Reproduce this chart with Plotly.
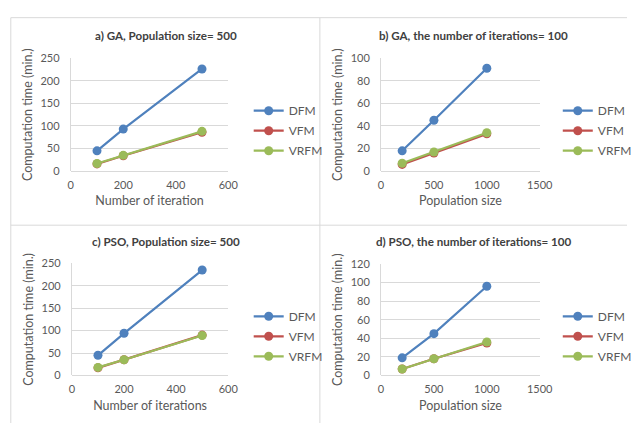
import plotly.graph_objects as go

W, H = 640, 429

series_names = ["DFM", "VFM", "VRFM"]
series_colors = ["#4F81BD", "#C0504D", "#9BBB59"]

# a) GA, Population size = 500
a_x = [100, 200, 500]
a_dfm = [45, 93, 226]
a_vfm = [16, 34, 86]
a_vrfm = [17, 35, 88]

# b) GA, number of iterations = 100
b_x = [200, 500, 1000]
b_dfm = [18, 45, 91]
b_vfm = [6, 16, 33]
b_vrfm = [7, 17, 34]

# c) PSO, Population size = 500
c_x = [100, 200, 500]
c_dfm = [45, 94, 235]
c_vfm = [17, 35, 90]
c_vrfm = [18, 35, 89]

# d) PSO, number of iterations = 100
d_x = [200, 500, 1000]
d_dfm = [19, 45, 96]
d_vfm = [7, 18, 35]
d_vrfm = [7, 18, 36]

titles = ["a) GA, Population size= 500", "b) GA, the number of iterations= 100",
          "c) PSO, Population size= 500", "d) PSO, the number of iterations= 100"]
xtitles = ["Number of iteration", "Population size", "Number of iterations", "Population size"]
ytitle = "Computation time (min.)"
xranges = [[0, 600], [0, 1500], [0, 600], [0, 1500]]
xdticks = [200, 500, 200, 500]
yranges = [[0, 250], [0, 100], [0, 250], [0, 120]]
ydticks = [50, 20, 50, 20]

panels = [
    (a_x, [a_dfm, a_vfm, a_vrfm]),
    (b_x, [b_dfm, b_vfm, b_vrfm]),
    (c_x, [c_dfm, c_vfm, c_vrfm]),
    (d_x, [d_dfm, d_vfm, d_vrfm]),
]

FONT = "Lato"
GRID = "#D9D9D9"
TXT = "#595959"

def px(x):
    return x / W

def py(y):
    return 1 - y / H

# plot-area pixel boxes (left, right, top, bottom)
boxes = [
    (69.5, 231, 52.7, 169.3),
    (387.7, 550.5, 52.7, 169.3),
    (70.7, 231, 264.3, 380),
    (387.7, 550.5, 265, 380),
]
title_pos = [(166.7, 29.3), (483, 29.3), (166.7, 241.7), (483, 241.7)]
legend_pos = [(252, 92), (569, 92), (252, 304), (569, 304)]

fig = go.Figure()
layout = {}
for i, (xs, ys_list) in enumerate(panels):
    k = "" if i == 0 else str(i + 1)
    lg = "legend" if i == 0 else f"legend{i + 1}"
    for name, col, ys in zip(series_names, series_colors, ys_list):
        fig.add_trace(go.Scatter(
            x=xs, y=ys, name=name, mode="lines+markers",
            line=dict(color=col, width=2.2),
            marker=dict(color=col, size=9),
            xaxis="x" + k, yaxis="y" + k, legend=lg,
            legendgroup=f"{name}{i}",
        ))
    l, r, t, b = boxes[i]
    layout["xaxis" + k] = dict(
        domain=[px(l), px(r)], range=xranges[i], dtick=xdticks[i], tick0=0,
        anchor="y" + k, showgrid=False, zeroline=False, showline=False,
        tickfont=dict(family=FONT, size=11, color=TXT), ticklabelstandoff=6,
        title=dict(text=xtitles[i], font=dict(family=FONT, size=12.5, color=TXT), standoff=6),
        fixedrange=True,
    )
    layout["yaxis" + k] = dict(
        domain=[py(b), py(t)], range=yranges[i], dtick=ydticks[i], tick0=0,
        anchor="x" + k, showgrid=True, gridcolor=GRID, gridwidth=1,
        zeroline=True, zerolinecolor=GRID, zerolinewidth=1,
        showline=True, linecolor=GRID, linewidth=1,
        tickfont=dict(family=FONT, size=11, color=TXT), ticklabelstandoff=8,
        title=dict(text=ytitle, font=dict(family=FONT, size=12.5, color=TXT), standoff=5),
        fixedrange=True,
    )
    lx, ly = legend_pos[i]
    layout[lg] = dict(
        x=px(lx), y=py(ly), xanchor="left", yanchor="top",
        font=dict(family=FONT, size=12, color=TXT), bgcolor="rgba(0,0,0,0)",
        tracegroupgap=1, itemwidth=30,
    )
    tx, ty = title_pos[i]
    fig.add_annotation(
        x=px(tx), y=py(ty), xref="paper", yref="paper", showarrow=False,
        text=f"<b>{titles[i]}</b>", xanchor="center", yanchor="middle",
        font=dict(family=FONT, size=11.6, color="#404040"),
    )

# panel borders
border = dict(color=GRID, width=1)
for (x0, y0, x1, y1) in [(8, 11, 8, 429), (325, 11, 325, 429), (8, 11, 640, 11), (8, 225, 640, 225)]:
    fig.add_shape(type="line", xref="paper", yref="paper",
                  x0=px(x0), y0=py(y0), x1=px(x1), y1=py(y1), line=border)

fig.update_layout(
    width=W, height=H, margin=dict(l=0, r=0, t=0, b=0),
    paper_bgcolor="white", plot_bgcolor="white", showlegend=True,
    **layout,
)
fig.write_html(
    "out.html",
    config={"displayModeBar": False, "staticPlot": True},
    post_script="document.body.style.margin='0';document.body.style.overflow='hidden';",
)
